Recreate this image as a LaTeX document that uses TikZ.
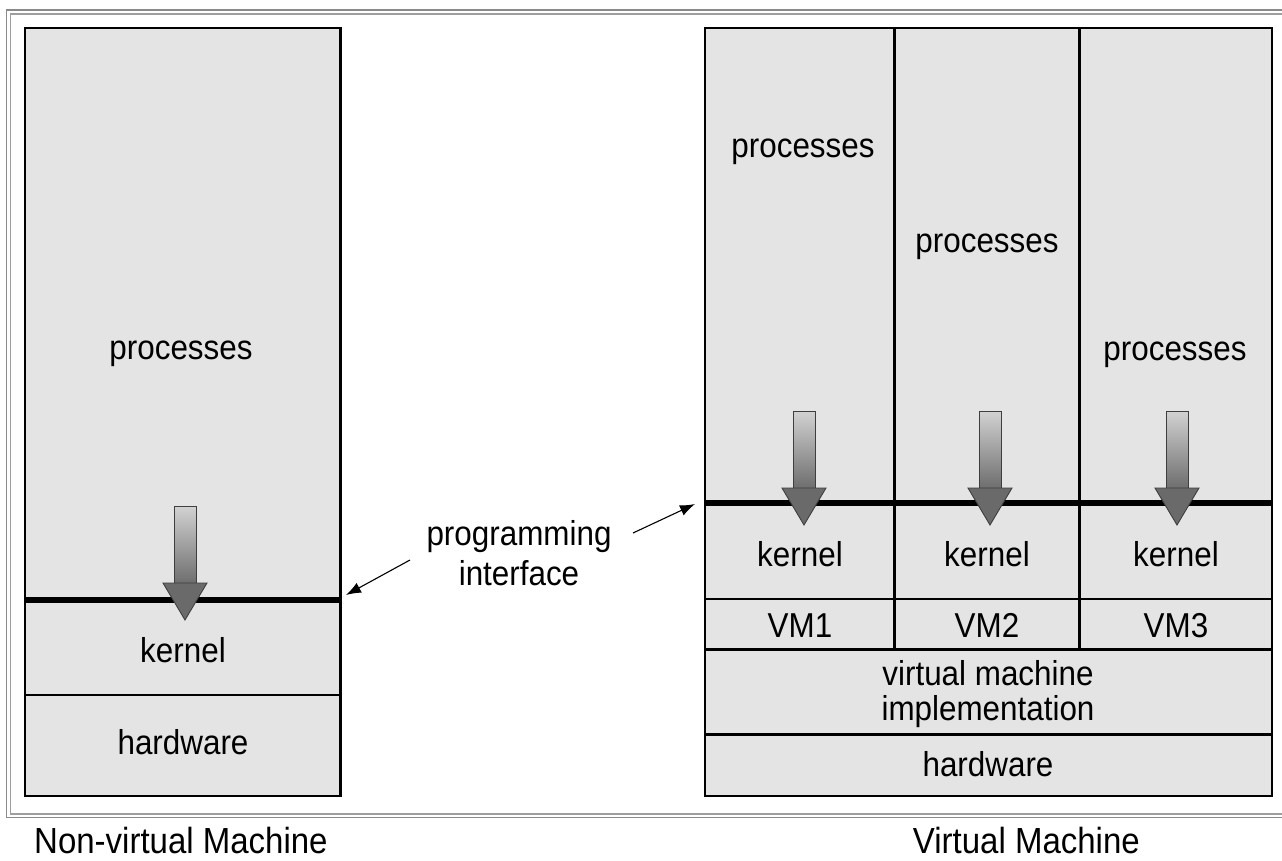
\documentclass[tikz,border=0pt]{standalone}
\usepackage{fontspec}
\setmainfont{Liberation Sans}
\usetikzlibrary{arrows.meta}

\definecolor{panel}{HTML}{E4E4E4}
\definecolor{frameA}{HTML}{8A8A8A}
\definecolor{frameB}{HTML}{9E9E9E}
\definecolor{shafttop}{HTML}{D2D2D2}
\definecolor{shaftbot}{HTML}{6E6E6E}
\definecolor{headfill}{HTML}{6A6A6A}
\definecolor{headedge}{HTML}{3E3E3E}

\newcommand\tallword[1]{\scalebox{1}[1.1]{#1}}

\tikzset{
  lbl/.style={anchor=base, inner sep=0pt, font=\fontsize{31.4bp}{38bp}\selectfont},
  caption/.style={inner sep=0pt, font=\fontsize{33bp}{40bp}\selectfont},
  boxline/.style={draw=black, line width=2.4bp},
  divline/.style={draw=black, line width=2.2bp},
  apiline/.style={draw=black, line width=6.5bp},
  ptr/.style={draw=black, line width=1.1bp, -{Latex[length=15bp,width=11bp]}},
  fatarrow/.pic={
    \shade[top color=shafttop, bottom color=shaftbot] (-11,0) rectangle (11,77);
    \draw[headedge, line width=0.9bp] (-11,77) -- (-11,0) -- (11,0) -- (11,77);
    \filldraw[fill=headfill, draw=headedge, line width=0.9bp, line join=miter]
      (-22,77) -- (22,77) -- (0,114) -- cycle;
  }
}

\begin{document}
\begin{tikzpicture}[x=1bp, y=-1bp]
  \useasboundingbox (0,0) rectangle (1282,861);

  % double frame around both stacks
  \draw[frameA, line width=1.6bp] (6.5,10) rectangle (1300,817.5);
  \draw[frameB, line width=1.4bp] (10.5,13.8) rectangle (1300,814);

  % ---- non-virtual machine stack ----
  \filldraw[fill=panel, boxline] (25,28) rectangle (340.5,796);
  \draw[divline] (25,695) -- (340.5,695);
  \draw[apiline] (25,600) -- (340.5,600);
  \pic at (185,506) {fatarrow};

  % ---- virtual machine stack ----
  \filldraw[fill=panel, boxline] (705,28) rectangle (1272,796);
  \draw[divline] (894.5,28) -- (894.5,649.5);
  \draw[divline] (1079.5,28) -- (1079.5,649.5);
  \draw[divline] (705,599) -- (1272,599);
  \draw[divline] (705,649.5) -- (1272,649.5);
  \draw[divline] (705,734.5) -- (1272,734.5);
  \draw[apiline] (705,503) -- (1272,503);
  \foreach \ax in {804,990,1177}
    \pic at (\ax,411) {fatarrow};

  % ---- labels ----
  \node[lbl] (lproc) at (181,359) {\tallword{processes}};
  \node[lbl] (lkern) at (183,662) {\tallword{kernel}};
  \node[lbl] (lhw)   at (183,754) {\tallword{hardware}};

  \node[lbl] (proc1) at (803,157) {\tallword{processes}};
  \node[lbl] (proc2) at (987,252) {\tallword{processes}};
  \node[lbl] (proc3) at (1175,360) {\tallword{processes}};

  \node[lbl] (kern1) at (800,566) {\tallword{kernel}};
  \node[lbl] (kern2) at (987,566) {\tallword{kernel}};
  \node[lbl] (kern3) at (1176,566) {\tallword{kernel}};

  \node[lbl] (vm1) at (800,637) {\tallword{VM1}};
  \node[lbl] (vm2) at (987,637) {\tallword{VM2}};
  \node[lbl] (vm3) at (1176,637) {\tallword{VM3}};

  \node[lbl] (vmi1) at (988,685) {\tallword{virtual machine}};
  \node[lbl] (vmi2) at (988,720) {\tallword{implementation}};
  \node[lbl] (rhw)  at (988,776) {\tallword{hardware}};

  \node[lbl] (api1) at (519,545) {\tallword{programming}};
  \node[lbl] (api2) at (519,585) {\tallword{interface}};

  \node[caption, anchor=base west] (cap1) at (34,853) {\tallword{Non-virtual Machine}};
  \node[caption, anchor=base east] (cap2) at (1140,853) {\tallword{Virtual Machine}};

  % ---- pointers to the two programming interfaces ----
  \coordinate (ltail) at (410,560);
  \coordinate (lhead) at (346,595);
  \coordinate (rtail) at (633,533);
  \coordinate (rhead) at (695,504);
  \draw[ptr] (ltail) -- (lhead);
  \draw[ptr] (rtail) -- (rhead);
\end{tikzpicture}
\end{document}
